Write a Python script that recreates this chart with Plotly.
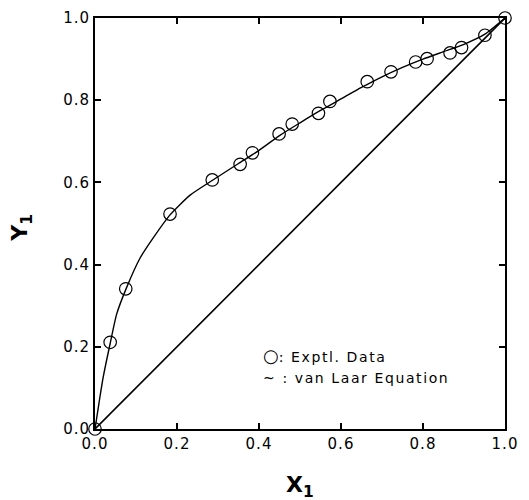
import plotly.graph_objects as go

# Experimental data
x_exp = [0.0, 0.037, 0.075, 0.183, 0.286, 0.354, 0.384, 0.449, 0.481, 0.545, 0.573,
         0.664, 0.722, 0.782, 0.810, 0.866, 0.894, 0.951, 1.0]
y_exp = [0.0, 0.211, 0.341, 0.523, 0.606, 0.644, 0.672, 0.718, 0.742, 0.768, 0.797,
         0.845, 0.869, 0.893, 0.901, 0.915, 0.928, 0.958, 1.0]

# van Laar curve
x_vl = [0.0, 0.010, 0.020, 0.037, 0.053, 0.077, 0.110, 0.142, 0.183, 0.232, 0.280,
        0.350, 0.400, 0.450, 0.500, 0.550, 0.600, 0.650, 0.700, 0.750, 0.800,
        0.850, 0.900, 0.950, 1.0]
y_vl = [0.0, 0.065, 0.126, 0.208, 0.280, 0.344, 0.416, 0.465, 0.521, 0.569, 0.601,
        0.646, 0.678, 0.714, 0.745, 0.775, 0.803, 0.831, 0.857, 0.880, 0.900,
        0.918, 0.936, 0.960, 1.0]

# Diagonal
x_diag = [0.0, 1.0]
y_diag = [0.0, 1.0]

tick_vals = [0.0, 0.2, 0.4, 0.6, 0.8, 1.0]
tick_text = ["0.0", "0.2", "0.4", "0.6", "0.8", "1.0"]

FONT = "DejaVu Sans, sans-serif"
SP = '<span style="letter-spacing:1px">{}</span>'
SP2 = '<span style="letter-spacing:1.6px">{}</span>'

fig = go.Figure()
fig.add_trace(go.Scatter(x=x_diag, y=y_diag, mode="lines",
                         line=dict(color="black", width=1.6), showlegend=False))
fig.add_trace(go.Scatter(x=x_vl, y=y_vl, mode="lines",
                         line=dict(color="black", width=1.4, shape="spline", smoothing=0.6),
                         showlegend=False))
fig.add_trace(go.Scatter(x=x_exp, y=y_exp, mode="markers",
                         marker=dict(symbol="circle-open", size=12.5, color="black",
                                     line=dict(width=1.2, color="black")),
                         showlegend=False, cliponaxis=False))

axis_common = dict(range=[0, 1], tickvals=tick_vals,
                   ticktext=[SP.format(t) for t in tick_text],
                   ticks="inside", ticklen=6, tickwidth=1.5, tickcolor="black",
                   showline=True, linecolor="black", linewidth=2, mirror="ticks",
                   showgrid=False, zeroline=False, automargin=False,
                   ticklabeloverflow="allow",
                   tickfont=dict(family=FONT, size=15, color="black"))

fig.update_layout(
    width=529, height=500,
    margin=dict(l=87, r=32, t=10, b=79),
    paper_bgcolor="white", plot_bgcolor="white",
    xaxis=dict(**axis_common),
    yaxis=dict(**axis_common),
    annotations=[
        dict(x=0.5, y=-0.14, xref="paper", yref="paper", xanchor="center", yanchor="middle",
             text="<b>X<sub>1</sub></b>", showarrow=False,
             font=dict(family=FONT, size=22, color="black")),
        dict(x=-0.178, y=0.49, xref="paper", yref="paper", xanchor="center", yanchor="middle",
             text="<b>Y<sub>1</sub></b>", showarrow=False, textangle=-90,
             font=dict(family=FONT, size=22, color="black")),
        dict(x=0.405, y=0.178, xref="x", yref="y", xanchor="left", yanchor="middle",
             text='<span style="font-size:18px">○</span>'
                  + SP2.format(": Exptl. Data"), showarrow=False,
             font=dict(family=FONT, size=14, color="black")),
        dict(x=0.405, y=0.125, xref="x", yref="y", xanchor="left", yanchor="middle",
             text=SP2.format("~ : van Laar Equation"), showarrow=False,
             font=dict(family=FONT, size=14, color="black")),
    ],
)

fig.write_html("out.html")
